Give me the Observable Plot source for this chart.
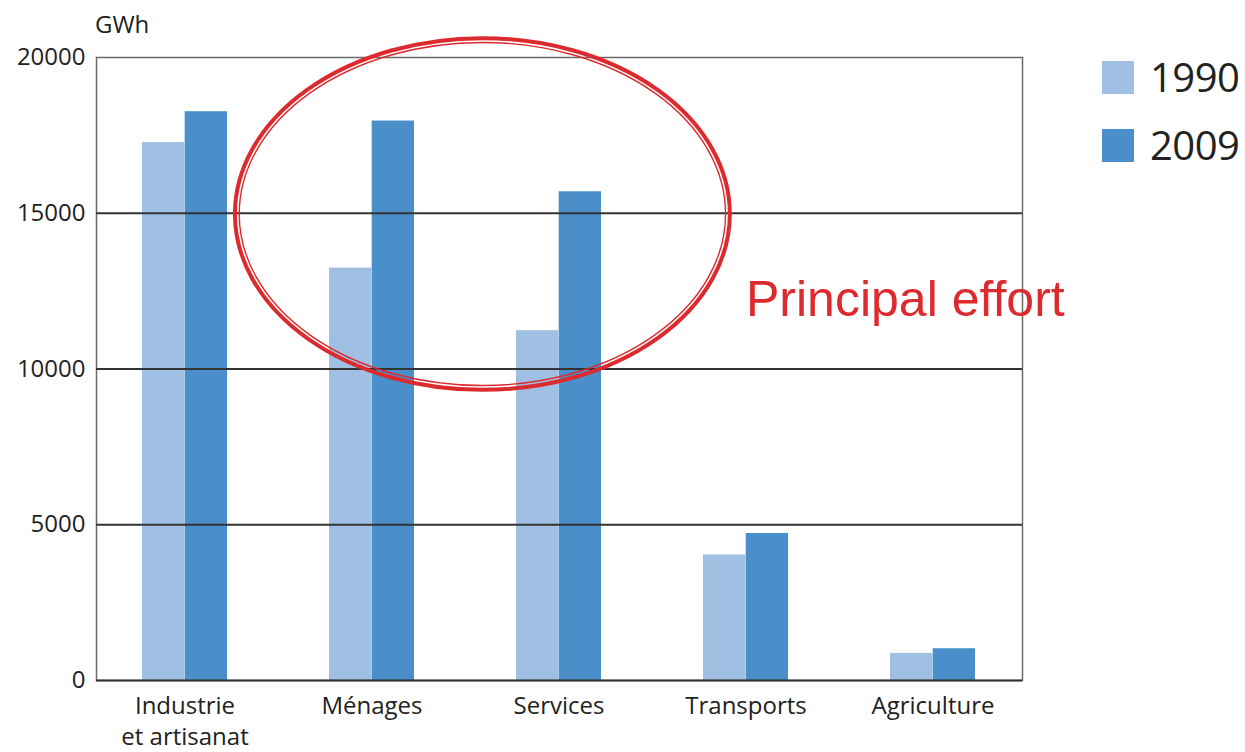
<!DOCTYPE html>
<html>
<head>
<meta charset="utf-8">
<script src="https://cdn.jsdelivr.net/npm/d3@7"></script>
<script src="https://cdn.jsdelivr.net/npm/@observablehq/plot@0.6"></script>
<style>
  body { margin: 0; background: #fff; font-family: "Open Sans", sans-serif; }
  #wrap { position: relative; width: 1245px; height: 752px; overflow: hidden; }
  #wrap svg { position: absolute; left: 0; top: 0; }
  .legend { position: absolute; left: 1102px; top: 60px; }
  .item { display: flex; align-items: center; height: 34px; margin-bottom: 34px; }
  .sw { width: 32px; height: 33px; margin-right: 16px; }
  .lt { font-size: 40px; color: #222; line-height: 34px; letter-spacing: -0.5px; }
</style>
</head>
<body>
<div id="wrap"></div>
<script>
// ---- data ----
const categories = ["Industrie et artisanat", "Ménages", "Services", "Transports", "Agriculture"];
const categoryLabels = ["Industrie\net artisanat", "Ménages", "Services", "Transports", "Agriculture"];
const years = ["1990", "2009"];
const values1990 = [17270, 13240, 11230, 4030, 870];
const values2009 = [18260, 17960, 15690, 4720, 1020];
const yTicks = [0, 5000, 10000, 15000, 20000];
const gridValues = [5000, 10000, 15000];
const yUnit = "GWh";
const colors = ["#9fc0e3", "#4a8fc9"];
const annotationText = "Principal effort";
const annotationCategory = "Transports";
const annotationValue = 12200;
const ellipseFrom = "Ménages";
const ellipseTo = "Services";
const ellipseCenterValue = 14960;
const ellipseRadiusValue = 5710;

// ---- layout ----
const W = 1245, H = 752;
const mL = 96, mR = 223, mT = 57, mB = 72;
const padIn = 0.544, padOut = 0.245;
// same band geometry Plot will use for x, to split each band into two bars
const bandwidth = d3.scaleBand().domain(categories).range([mL, W - mR]).paddingInner(padIn).paddingOuter(padOut).bandwidth();
const half = bandwidth / 2;

const rows1990 = categories.map((c, i) => ({ cat: c, year: years[0], value: values1990[i] }));
const rows2009 = categories.map((c, i) => ({ cat: c, year: years[1], value: values2009[i] }));

const plot = Plot.plot({
  width: W,
  height: H,
  marginLeft: mL,
  marginRight: mR,
  marginTop: mT,
  marginBottom: mB,
  style: { fontFamily: '"Open Sans", sans-serif', fontSize: "24px", color: "#222", background: "transparent", overflow: "visible" },
  x: { domain: categories, paddingInner: padIn, paddingOuter: padOut },
  y: { domain: [0, 20000] },
  color: { domain: years, range: colors },
  marks: [
    Plot.barY(rows1990, { x: "cat", y: "value", fill: "year", insetRight: half }),
    Plot.barY(rows2009, { x: "cat", y: "value", fill: "year", insetLeft: half }),
    Plot.frame({ stroke: "#6a6a6a", strokeWidth: 1.5 }),
    Plot.ruleY(gridValues, { stroke: "#333", strokeWidth: 1.8 }),
    Plot.ruleY([0], { stroke: "#333", strokeWidth: 2 }),
    Plot.axisX({
      tickSize: 0, tickPadding: 12, label: null, fontSize: 24, lineHeight: 1.28,
      tickFormat: d => categoryLabels[categories.indexOf(d)]
    }),
    Plot.axisY({ ticks: yTicks, tickSize: 0, tickPadding: 11, label: null, fontSize: 24, tickFormat: d => String(d) }),
    Plot.text([{ cat: annotationCategory, v: annotationValue, t: annotationText }], {
      x: "cat", y: "v", text: "t", textAnchor: "start", lineAnchor: "middle",
      fill: "#dd2a2e", fontSize: 50, fontFamily: '"Liberation Sans", Arial, sans-serif'
    })
  ]
});

document.getElementById("wrap").appendChild(plot);

// ---- annotations drawn with the plot's scales ----
const svg = d3.select(plot);
const xS = plot.scale("x");
const yS = plot.scale("y");
const c1 = xS.apply(ellipseFrom) + bandwidth / 2;
const c2 = xS.apply(ellipseTo) + bandwidth / 2;
const step = c2 - c1;
const cx = c1 + 0.592 * step;
const rx = 1.334 * step;
const cy = yS.apply(ellipseCenterValue);
const ry = yS.apply(0) - yS.apply(ellipseRadiusValue);
const g = svg.append("g").attr("fill", "none").attr("stroke", "#dd2a2e");
g.append("ellipse").attr("cx", cx).attr("cy", cy).attr("rx", rx - 2).attr("ry", ry - 2).attr("stroke-width", 4);
g.append("ellipse").attr("cx", cx).attr("cy", cy).attr("rx", rx - 6.3).attr("ry", ry - 6.3).attr("stroke-width", 1.4);

svg.append("text")
  .attr("x", mL - 1)
  .attr("y", yS.apply(20000) - 24)
  .attr("text-anchor", "start")
  .attr("font-size", 24)
  .attr("fill", "#222")
  .text(yUnit);

// ---- legend ----
const legend = d3.select("#wrap").append("div").attr("class", "legend");
years.forEach((yr, i) => {
  const it = legend.append("div").attr("class", "item");
  it.append("div").attr("class", "sw").style("background", colors[i]);
  it.append("div").attr("class", "lt").text(yr);
});
</script>
</body>
</html>
